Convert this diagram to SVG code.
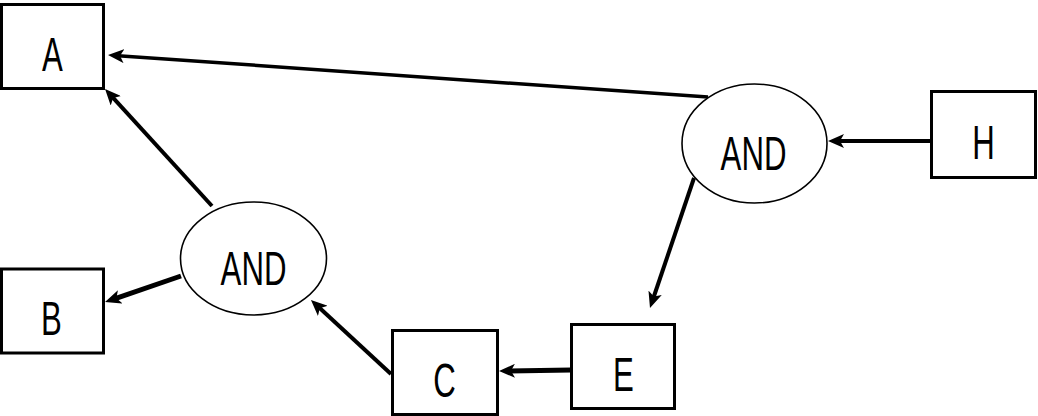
<svg xmlns="http://www.w3.org/2000/svg" width="1038" height="416" viewBox="0 0 1038 416">
<style>
.box{fill:#fff;stroke:#000;stroke-width:3}
.gate{fill:#fff;stroke:#000;stroke-width:1.6}
.lbl{font-family:"Liberation Sans",Arial,sans-serif;font-size:48px;fill:#000;text-anchor:middle}
.conn{stroke:#000;stroke-width:4;fill:none;marker-end:url(#ah)}
</style>
<defs>
<marker id="ah" viewBox="0 0 16 14" refX="6" refY="7" markerWidth="16" markerHeight="14" markerUnits="userSpaceOnUse" orient="auto">
<path d="M0,0 L16,7 L0,14 L4,7 z" fill="#000"/>
</marker>
</defs>
<rect width="1038" height="416" fill="#fff"/>
<g id="connectors">
<line class="conn" x1="931" y1="141" x2="838" y2="141"/>
<line class="conn" x1="708" y1="97" x2="118" y2="55.7" style="stroke-width:3.5"/>
<line class="conn" x1="694" y1="178" x2="653.2" y2="298.5"/>
<line class="conn" x1="571" y1="370" x2="509" y2="370.9" style="stroke-width:5"/>
<line class="conn" x1="391" y1="374" x2="318.3" y2="306.8"/>
<line class="conn" x1="212" y1="206" x2="111.8" y2="96.4"/>
<line class="conn" x1="181" y1="276" x2="114.5" y2="298.8" style="stroke-width:5"/>
</g>
<g id="A"><rect class="box" x="1.5" y="4.5" width="102" height="84"/><text class="lbl" transform="translate(52.5,71) scale(0.65,1)">A</text></g>
<g id="B"><rect class="box" x="1.5" y="269" width="102" height="84"/><text class="lbl" transform="translate(51.5,335) scale(0.65,1)">B</text></g>
<g id="AND1"><ellipse class="gate" cx="253.5" cy="258.5" rx="73" ry="56.5"/><text class="lbl" transform="translate(253.5,285) scale(0.65,1)">AND</text></g>
<g id="C"><rect class="box" x="392.5" y="330.5" width="105" height="84"/><text class="lbl" transform="translate(444.5,397) scale(0.65,1)">C</text></g>
<g id="E"><rect class="box" x="571.5" y="324.5" width="103" height="84"/><text class="lbl" transform="translate(623.5,391) scale(0.65,1)">E</text></g>
<g id="AND2"><ellipse class="gate" cx="754.5" cy="143.5" rx="72.5" ry="59.5"/><text class="lbl" transform="translate(753.5,170) scale(0.65,1)">AND</text></g>
<g id="H"><rect class="box" x="931.5" y="91.5" width="104" height="86"/><text class="lbl" transform="translate(983.5,159) scale(0.65,1)">H</text></g>
</svg>
